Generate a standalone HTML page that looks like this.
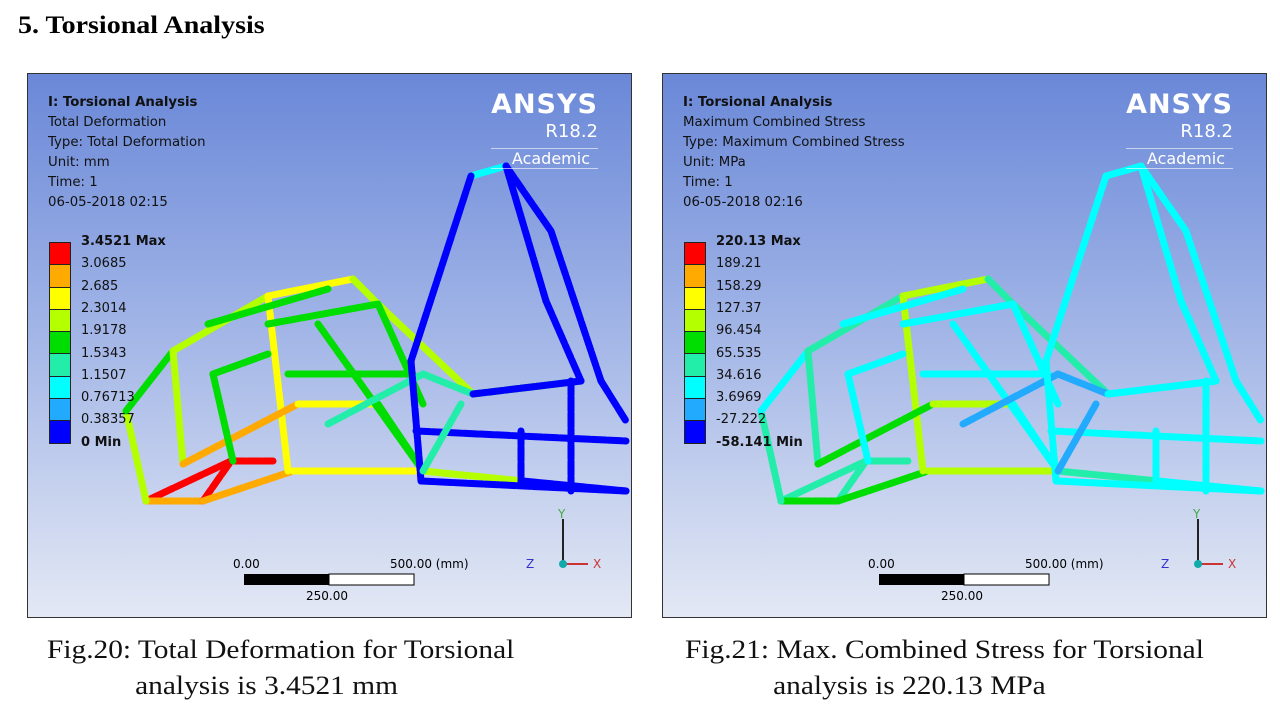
<!DOCTYPE html>
<html><head><meta charset="utf-8"><style>
body{margin:0;width:1280px;height:720px;background:#fff;position:relative;overflow:hidden;font-family:"Liberation Serif",serif}
.title{position:absolute;left:18px;top:12px;font-size:25px;font-weight:bold;color:#000;transform:scaleX(1.12);transform-origin:left}
.panel{position:absolute;top:73px;width:603px;height:543px;border:1.5px solid #333;background:linear-gradient(#6a88d8,#9fb3e6 45%,#e3e8f4);overflow:hidden}
.info{position:absolute;left:20px;top:19px;font-family:"DejaVu Sans",sans-serif;font-size:13.3px;line-height:20px;color:#111}
.logo{position:absolute;right:33px;top:14px;text-align:right;color:#fff;font-family:"DejaVu Sans",sans-serif}
.logo .a{font-size:27px;font-weight:bold;letter-spacing:1px;line-height:34px}
.logo .r{font-size:18px;line-height:20px}
.logo .c{font-size:16px;margin-top:6px;border-top:1px solid rgba(255,255,255,.6);border-bottom:1px solid rgba(255,255,255,.6);padding:0 8px}
.leg{position:absolute;left:21px;top:168px}
.sw{width:20px;height:20px;border:1px solid #222;border-top:none}
.lab{position:absolute;left:32px;font-family:"DejaVu Sans",sans-serif;font-size:13px;color:#111;white-space:nowrap}
.cap{position:absolute;font-size:26px;color:#111;line-height:36px;transform:scaleX(1.13);transform-origin:left;white-space:nowrap}
svg{position:absolute;left:0;top:0}
</style></head><body>
<div class="title">5. Torsional Analysis</div>

<div class="panel" id="p1" style="left:27px">
 <div class="info"><b>I: Torsional Analysis</b><br>Total Deformation<br>Type: Total Deformation<br>Unit: mm<br>Time: 1<br>06-05-2018 02:15</div>
 <div class="logo"><div class="a">ANSYS</div><div class="r">R18.2</div><div class="c">Academic</div></div>
 <div class="leg" id="leg1"></div>
</div>
<div class="panel" id="p2" style="left:662px">
 <div class="info"><b>I: Torsional Analysis</b><br>Maximum Combined Stress<br>Type: Maximum Combined Stress<br>Unit: MPa<br>Time: 1<br>06-05-2018 02:16</div>
 <div class="logo"><div class="a">ANSYS</div><div class="r">R18.2</div><div class="c">Academic</div></div>
 <div class="leg" id="leg2"></div>
</div>

<div class="cap" style="left:47px;top:632px">Fig.20: Total Deformation for Torsional<br><span style="padding-left:78px">analysis is 3.4521 mm</span></div>
<div class="cap" style="left:685px;top:632px">Fig.21: Max. Combined Stress for Torsional<br><span style="padding-left:78px">analysis is 220.13 MPa</span></div>

<script>
const legendColors=["#ff0000","#ffaa00","#ffff00","#b4ff00","#00dd00","#22eeaa","#00ffff","#22aaff","#0000ff"];
const labels1=["3.4521 Max","3.0685","2.685","2.3014","1.9178","1.5343","1.1507","0.76713","0.38357","0 Min"];
const labels2=["220.13 Max","189.21","158.29","127.37","96.454","65.535","34.616","3.6969","-27.222","-58.141 Min"];
const frameColors1=["#00dd00","#b4ff00","#ff0000","#ffaa00","#0000ff","#22eeaa","#ffff00","#00ffff"];
const frameColors2=["#00ffff","#22eeaa","#22eeaa","#00dd00","#00ffff","#22aaff","#b4ff00","#00ffff"];
const segs=[
[118,427,203,387,2],[203,387,245,387,2],[118,427,175,427,3],[175,427,203,387,2],[175,427,265,397,3],[265,397,395,397,6],[395,397,495,407,1],[495,407,598,417,4],
[98,337,118,427,1],[98,337,145,277,0],[145,277,240,222,1],[240,222,325,205,6],[325,205,350,230,1],[350,230,445,320,1],[445,320,553,307,0],
[240,222,260,397,6],[145,277,155,390,1],[240,250,350,230,0],[180,250,300,215,0],[260,300,385,300,0],[155,390,270,330,3],[270,330,350,330,6],[350,330,395,397,0],
[185,300,205,387,0],[185,300,240,280,0],[290,250,395,397,0],[350,230,395,330,0],[300,350,395,300,5],[395,300,445,320,5],
[443,102,478,92,7],[443,102,383,287,4],[478,92,523,157,4],[523,157,573,307,4],[573,307,598,347,4],[478,92,518,227,4],[518,227,553,307,4],
[383,287,393,407,4],[388,357,598,367,4],[393,407,598,417,4],[493,357,493,407,4],[543,307,543,417,4],[445,320,553,307,4],[395,397,433,330,5]
];
[["p1",labels1,frameColors1,"leg1"],["p2",labels2,frameColors2,"leg2"]].forEach(([pid,labs,fc,lid])=>{
 const leg=document.getElementById(lid);
 labs.forEach((t,i)=>{
  const l=document.createElement('div');
  l.className='lab';l.style.top=(i*22.3-8)+'px';l.textContent=t;
  if(i==0||i==labs.length-1)l.style.fontWeight='bold';
  
  
  leg.appendChild(l);
 });
 legendColors.forEach((c,i)=>{
  const s=document.createElement('div');
  s.className='sw';s.style.background=c;s.style.height='21.3px';if(i==0)s.style.borderTop='1px solid #222';
  
  
  leg.appendChild(s);
 });
 const ns='http://www.w3.org/2000/svg';
 const svg=document.createElementNS(ns,'svg');svg.setAttribute('width','603');svg.setAttribute('height','543');
 
 
 segs.forEach(s=>{
  const ln=document.createElementNS(ns,'line');
  ln.setAttribute('x1',s[0]);ln.setAttribute('y1',s[1]);ln.setAttribute('x2',s[2]);ln.setAttribute('y2',s[3]);
  ln.setAttribute('stroke',fc[s[4]]);ln.setAttribute('stroke-width','7');ln.setAttribute('stroke-linecap','round');
  ln.setAttribute('stroke-dasharray','14 2');
  
  
  svg.appendChild(ln);
 });
 svg.insertAdjacentHTML('beforeend',
 '<g><rect x="216" y="500" width="85" height="11" fill="#000"/><rect x="301" y="500" width="85" height="11" fill="#fff" stroke="#000"/>'+
 '<text x="205" y="494" font-family="DejaVu Sans" font-size="12">0.00</text><text x="362" y="494" font-family="DejaVu Sans" font-size="12">500.00 (mm)</text><text x="278" y="526" font-family="DejaVu Sans" font-size="12">250.00</text></g>'+
 '<g><line x1="535" y1="490" x2="535" y2="445" stroke="#222" stroke-width="2"/><line x1="535" y1="490" x2="560" y2="490" stroke="#c33" stroke-width="2"/><circle cx="535" cy="490" r="4" fill="#1aa"/>'+
 '<text x="530" y="444" fill="#4a4" font-family="DejaVu Sans" font-size="12">Y</text><text x="565" y="494" fill="#c33" font-family="DejaVu Sans" font-size="12">X</text><text x="498" y="494" fill="#33c" font-family="DejaVu Sans" font-size="12">Z</text></g>');
 document.getElementById(pid).insertBefore(svg,document.getElementById(pid).firstChild);
});
</script>
</body></html>
